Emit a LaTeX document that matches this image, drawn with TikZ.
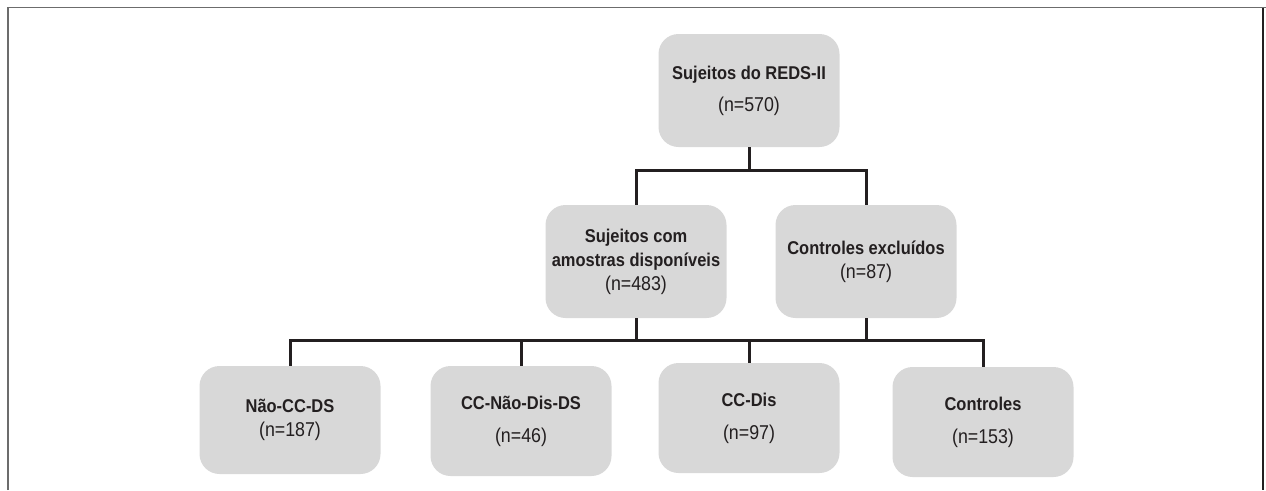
\documentclass[tikz,border=0pt]{standalone}
\usepackage{fontspec}
\setmainfont[FakeStretch=0.89]{Liberation Sans}
\definecolor{boxgray}{RGB}{216,216,216}
\definecolor{inkdark}{RGB}{35,31,32}
\newcommand{\hd}[1]{{\fontsize{18.5}{24}\selectfont\bfseries #1}}

\begin{document}
\begin{tikzpicture}[x=1pt, y=-1pt,
	group/.style={rectangle, rounded corners=20pt, fill=boxgray, text=inkdark,
		minimum width=181pt, minimum height=112pt, inner sep=0pt, align=center,
		font=\fontsize{20}{24}\selectfont},
	link/.style={draw=inkdark, line width=3pt}]
	\useasboundingbox (0,0) rectangle (1266,490);
	% frame
	\draw [gray!85!black, line width=1.6pt] (8,490) -- (8,7.5) -- (1266,7.5);
	\draw [inkdark, line width=1.6pt] (1263,7.5) -- (1263,490);
	% top
	\node [group, minimum height=113pt] (reds) at (749,90.5) {\hd{Sujeitos do REDS-II}\\[8pt](n=570)};
	% middle
	\node [group, minimum height=113pt] (avail) at (636,261.5) {\hd{Sujeitos com}\\\hd{amostras disponíveis}\\(n=483)};
	\node [group, minimum height=113pt] (excl) at (866,261.5) {\hd{Controles excluídos}\\(n=87)};
	% bottom
	\node [group, minimum height=108pt] (naocc) at (290,420) {\hd{Não-CC-DS}\\(n=187)};
	\node [group, minimum height=110pt] (ccnao) at (521,421) {\hd{CC-Não-Dis-DS}\\[9pt](n=46)};
	\node [group, minimum height=110pt] (ccdis) at (749,418) {\hd{CC-Dis}\\[9pt](n=97)};
	\node [group, minimum height=110pt] (ctrl) at (983,422) {\hd{Controles}\\[9pt](n=153)};
	% connectors
	\coordinate (upper) at (749,170);
	\coordinate (lower) at (749,340);
	\draw [link] (reds.south) -- (upper);
	\draw [link] (avail.north) |- (upper) -| (excl.north);
	\draw [link] (avail.south) -- (avail.south |- lower);
	\draw [link] (excl.south) -- (excl.south |- lower);
	\draw [link] (naocc.north) |- (lower) -| (ctrl.north);
	\draw [link] (ccnao.north) -- (ccnao.north |- lower);
	\draw [link] (ccdis.north) -- (ccdis.north |- lower);
\end{tikzpicture}
\end{document}
